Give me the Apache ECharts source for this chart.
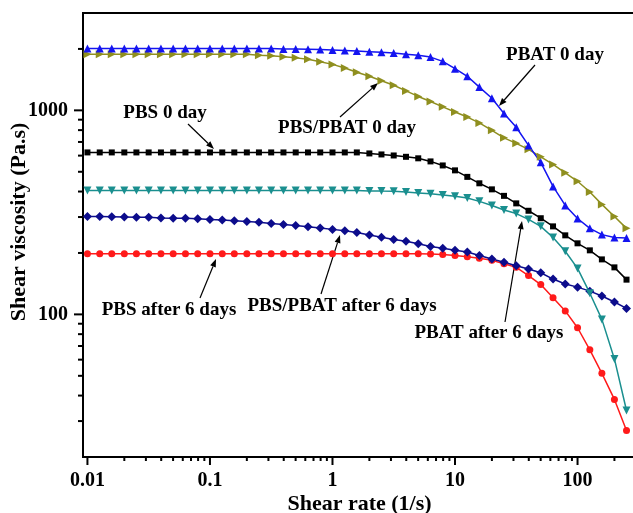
<!DOCTYPE html>
<html>
<head>
<meta charset="utf-8">
<script src="https://cdn.jsdelivr.net/npm/echarts@6/dist/echarts.min.js"></script>
<style>
  html, body { margin: 0; padding: 0; background: #fff; }
  #chart { width: 633px; height: 513px; }
</style>
</head>
<body>
<div id="chart"></div>
<script>
// shear rate (1/s), 10 points per decade
const shearRate = [0.01, 0.0126, 0.0158, 0.02, 0.0251, 0.0316, 0.0398, 0.0501, 0.0631, 0.0794,
  0.1, 0.126, 0.158, 0.2, 0.251, 0.316, 0.398, 0.501, 0.631, 0.794,
  1, 1.26, 1.58, 2, 2.51, 3.16, 3.98, 5.01, 6.31, 7.94,
  10, 12.6, 15.8, 20, 25.1, 31.6, 39.8, 50.1, 63.1, 79.4,
  100, 126, 158, 200, 251];

// shear viscosity (Pa.s)
const pbat0 = [2010, 2010, 2010, 2010, 2010, 2010, 2010, 2010, 2010, 2010,
  2010, 2010, 2010, 2010, 2010, 2010, 2000, 2000, 1995, 1985,
  1975, 1965, 1955, 1940, 1925, 1910, 1885, 1860, 1824, 1738,
  1600, 1469, 1300, 1146, 966, 826, 673, 556, 424, 342,
  295, 264, 246, 238, 237];
const blend0 = [1885, 1885, 1885, 1885, 1885, 1885, 1885, 1885, 1885, 1885,
  1885, 1885, 1885, 1885, 1860, 1850, 1830, 1808, 1780, 1729,
  1680, 1614, 1536, 1469, 1397, 1327, 1245, 1170, 1105, 1040,
  982, 927, 868, 798, 733, 689, 644, 592, 543, 494,
  449, 398, 346, 302, 264];
const pbs0 = [622, 622, 622, 622, 622, 622, 622, 622, 622, 622,
  622, 622, 622, 622, 622, 622, 622, 622, 622, 622,
  622, 622, 622, 615, 608, 601, 592, 582, 562, 537,
  508, 472, 439, 410, 381, 350, 322, 296, 270, 244,
  223, 206, 186, 170, 148];
const pbat6 = [405, 405, 405, 405, 405, 405, 405, 405, 405, 405,
  405, 405, 405, 405, 405, 405, 405, 405, 405, 405,
  405, 405, 405, 403, 402, 401, 398, 394, 390, 385,
  379, 372, 358, 342, 325, 312, 292, 270, 238, 204,
  168, 127, 94.5, 60.5, 33.8];
const blend6 = [302, 302, 301, 300, 299, 299, 297, 296, 296, 294,
  292, 290, 288, 285, 283, 279, 276, 273, 269, 265,
  261, 257, 252, 245, 239, 233, 228, 222, 215, 211,
  206, 202, 194.5, 187, 180, 173, 167, 160, 149, 141,
  136, 130, 123, 115, 107];
const pbs6 = [198, 198, 198, 198, 198, 198, 198, 198, 198, 198,
  198, 198, 198, 198, 198, 198, 198, 198, 198, 198,
  198, 198, 198, 198, 198, 198, 198, 198, 197.6, 196.5,
  194.6, 191.6, 188.5, 184, 177, 170, 155, 140, 120.5, 104,
  86, 67, 51.4, 38.3, 27];

const xMajor = [0.01, 0.1, 1, 10, 100];
const xMinor = [0.02, 0.03, 0.04, 0.05, 0.06, 0.07, 0.08, 0.09,
  0.2, 0.3, 0.4, 0.5, 0.6, 0.7, 0.8, 0.9,
  2, 3, 4, 5, 6, 7, 8, 9,
  20, 30, 40, 50, 60, 70, 80, 90, 200];
const yMajor = [100, 1000];
const yMinor = [30, 40, 50, 60, 70, 80, 90,
  200, 300, 400, 500, 600, 700, 800, 900, 2000];

const X_MIN = 0.0092, X_MAX = 300;
const Y_MIN = 20, Y_MAX = 3000;
const FONT = '"Liberation Serif", "Times New Roman", serif';

const chart = echarts.init(document.getElementById('chart'));

const pairs = (ys) => shearRate.map((x, i) => [x, ys[i]]);

const makeSeries = (name, ys, color, symbol, size, rotate) => ({
  name: name,
  type: 'line',
  data: pairs(ys),
  symbol: symbol,
  symbolSize: size,
  symbolRotate: rotate || 0,
  showAllSymbol: true,
  lineStyle: { color: color, width: 1.5 },
  itemStyle: { color: color },
});

const arrow = (x1, y1, x2, y2) => {
  const a = Math.atan2(y2 - y1, x2 - x1);
  const L = 8, W = 3;
  const bx = x2 - L * Math.cos(a), by = y2 - L * Math.sin(a);
  return [
    { type: 'line', shape: { x1: x1, y1: y1, x2: bx, y2: by }, style: { stroke: '#000', lineWidth: 1.2 } },
    {
      type: 'polygon',
      shape: { points: [[x2, y2], [bx + W * Math.sin(a), by - W * Math.cos(a)], [bx - W * Math.sin(a), by + W * Math.cos(a)]] },
      style: { fill: '#000' },
    },
  ];
};

const label = (text, x, y) => ({
  type: 'text', x: x, y: y,
  style: { text: text, fontFamily: FONT, fontWeight: 'bold', fontSize: 19, fill: '#000', align: 'center', verticalAlign: 'middle' },
});

// axis ticks drawn by a custom series so they go through the axes' log scales
const xTickSeries = {
  type: 'custom',
  silent: true,
  clip: false,
  z: 5,
  data: xMajor.concat(xMinor).map((v) => [v, Y_MIN]),
  encode: { x: 0, y: 1 },
  renderItem: (params, api) => {
    const p = api.coord([api.value(0), api.value(1)]);
    const len = xMajor.indexOf(api.value(0)) >= 0 ? 8 : 4;
    return {
      type: 'line',
      shape: { x1: p[0], y1: p[1], x2: p[0], y2: p[1] + len },
      style: { stroke: '#000', lineWidth: 2 },
    };
  },
};
const yTickSeries = {
  type: 'custom',
  silent: true,
  clip: false,
  z: 5,
  data: yMajor.concat(yMinor).map((v) => [X_MIN, v]),
  encode: { x: 0, y: 1 },
  renderItem: (params, api) => {
    const p = api.coord([api.value(0), api.value(1)]);
    const len = yMajor.indexOf(api.value(1)) >= 0 ? 9 : 5;
    return {
      type: 'line',
      shape: { x1: p[0], y1: p[1], x2: p[0] - len, y2: p[1] },
      style: { stroke: '#000', lineWidth: 2 },
    };
  },
};

const option = {
  animation: false,
  backgroundColor: '#fff',
  grid: {
    left: 83, top: 13, right: -3, bottom: 56,
    outerBoundsMode: 'none',
    show: true, borderColor: '#000', borderWidth: 2,
  },
  xAxis: {
    type: 'log',
    min: X_MIN,
    max: X_MAX,
    name: 'Shear rate (1/s)',
    nameLocation: 'middle',
    nameGap: 36,
    nameMoveOverlap: false,
    nameTextStyle: { fontFamily: FONT, fontWeight: 'bold', fontSize: 22, color: '#000' },
    axisLine: { onZero: false, lineStyle: { color: '#000', width: 2 } },
    axisTick: { show: false },
    axisLabel: {
      customValues: xMajor, margin: 14,
      fontFamily: FONT, fontWeight: 'bold', fontSize: 20, color: '#000',
      formatter: (v) => String(v),
    },
    splitLine: { show: false },
  },
  yAxis: {
    type: 'log',
    min: Y_MIN,
    max: Y_MAX,
    name: 'Shear viscosity (Pa.s)',
    nameLocation: 'middle',
    nameGap: 53,
    nameMoveOverlap: false,
    nameTextStyle: { fontFamily: FONT, fontWeight: 'bold', fontSize: 22, color: '#000', padding: [0, 0, 0, 26] },
    axisLine: { onZero: false, lineStyle: { color: '#000', width: 2 } },
    axisTick: { show: false },
    axisLabel: {
      customValues: yMajor, margin: 15,
      fontFamily: FONT, fontWeight: 'bold', fontSize: 20, color: '#000',
      formatter: (v) => String(v),
    },
    splitLine: { show: false },
  },
  series: [
    makeSeries('PBS after 6 days', pbs6, '#ff1a1a', 'circle', 7),
    makeSeries('PBS/PBAT after 6 days', blend6, '#0c0c8c', 'diamond', 9),
    makeSeries('PBAT after 6 days', pbat6, '#1a8f8f', 'triangle', 8, 180),
    makeSeries('PBS 0 day', pbs0, '#000000', 'rect', 6),
    makeSeries('PBS/PBAT 0 day', blend0, '#8f8f1f', 'triangle', 8, -90),
    makeSeries('PBAT 0 day', pbat0, '#1414f0', 'triangle', 8),
    xTickSeries,
    yTickSeries,
  ],
  graphic: [
    label('PBAT 0 day', 555, 55),
    label('PBS/PBAT 0 day', 347, 128),
    label('PBS 0 day', 165, 113),
    label('PBS after 6 days', 169, 310),
    label('PBS/PBAT after 6 days', 342, 306),
    label('PBAT after 6 days', 489, 333),
    ...arrow(535, 65, 499, 106),
    ...arrow(340, 117, 378, 83),
    ...arrow(188, 124, 214, 149),
    ...arrow(200, 298, 216, 259),
    ...arrow(321, 294, 340, 235),
    ...arrow(505, 322, 522, 221),
  ],
};

chart.setOption(option);
</script>
</body>
</html>
